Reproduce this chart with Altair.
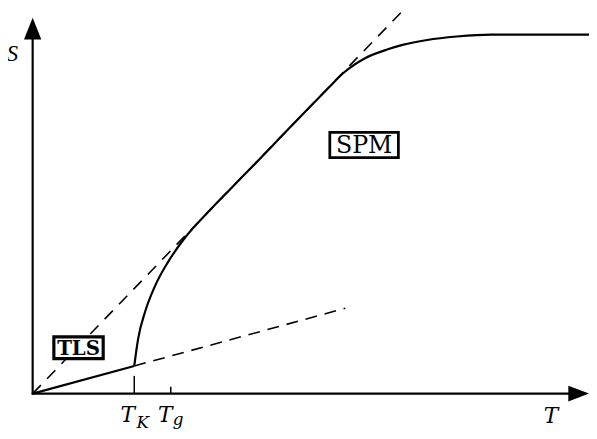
import altair as alt
import pandas as pd

# ---- data (T = temperature, S = entropy, arbitrary units) ----
curve_T = [2.06, 2.10, 2.14, 2.28, 2.48, 2.74, 3.08, 3.50, 4.00, 4.50, 5.00, 5.50,
           6.00, 6.30, 6.74, 7.20, 7.50, 8.00, 8.60, 9.30, 10.00, 10.70, 11.28]
curve_S = [0.56, 0.86, 1.12, 1.66, 2.18, 2.66, 3.15, 3.62, 4.14, 4.65, 5.17, 5.69,
           6.20, 6.50, 6.80, 6.98, 7.07, 7.17, 7.24, 7.28, 7.28, 7.28, 7.28]

T_K, S_K = 2.06, 0.56      # Kauzmann point
T_g = 2.80                  # glass transition tick
tls_solid_T = [0.0, 2.06]
tls_solid_S = [0.0, 0.56]
tls_dash_T = [2.06, 6.34]
tls_dash_S = [0.56, 1.73]
asym_T = [0.0, 7.50]
asym_S = [0.0, 7.76]

T_MAX, S_MAX = 11.28, 7.62  # arrow tips
T_MIN, S_MIN = -0.50, -0.70

box_labels = ["TLS", "SPM"]
box_T = [0.93, 6.72]
box_S = [0.93, 5.04]

xs = alt.Scale(domain=[T_MIN, T_MAX], nice=False, zero=False)
ys = alt.Scale(domain=[S_MIN, 7.76], nice=False, zero=False)
X = lambda f="T": alt.X(f"{f}:Q", scale=xs, axis=None)
Y = lambda f="S": alt.Y(f"{f}:Q", scale=ys, axis=None)

curve_df = pd.DataFrame({"T": curve_T, "S": curve_S})
curve = alt.Chart(curve_df).mark_line(color="black", strokeWidth=2.2, interpolate="monotone").encode(
    x=X(), y=Y(), order=alt.Order("T:Q"))

tls_solid = alt.Chart(pd.DataFrame({"T": tls_solid_T, "S": tls_solid_S})).mark_line(
    color="black", strokeWidth=2.2).encode(x=X(), y=Y())
tls_dash = alt.Chart(pd.DataFrame({"T": tls_dash_T, "S": tls_dash_S})).mark_line(
    color="black", strokeWidth=1.6, strokeDash=[12, 8]).encode(x=X(), y=Y())
asym = alt.Chart(pd.DataFrame({"T": asym_T, "S": asym_S})).mark_line(
    color="black", strokeWidth=1.6, strokeDash=[12, 9]).encode(x=X(), y=Y())

# axes
yaxis = alt.Chart(pd.DataFrame({"T": [0.0], "S": [-0.02], "S2": [S_MAX - 0.2]})).mark_rule(
    color="black", strokeWidth=2.2).encode(x=X(), y=Y(), y2="S2:Q")
xaxis = alt.Chart(pd.DataFrame({"T": [-0.02], "T2": [T_MAX - 0.2], "S": [0.0]})).mark_rule(
    color="black", strokeWidth=2.2).encode(x=X(), x2="T2:Q", y=Y())
yarrow = alt.Chart(pd.DataFrame({"T": [0.0], "S": [S_MAX - 0.22]})).mark_point(
    shape="M0,-1L0.8,1L-0.8,1Z", size=484, filled=True, color="black", opacity=1, strokeWidth=0
).encode(x=X(), y=Y())
xarrow = alt.Chart(pd.DataFrame({"T": [T_MAX - 0.21], "S": [0.0]})).mark_point(
    shape="M1,0L-1,-0.76L-1,0.76Z", size=441, filled=True, color="black", opacity=1, strokeWidth=0
).encode(x=X(), y=Y())

# ticks
tk_tick = alt.Chart(pd.DataFrame({"T": [T_K], "S": [0.0], "S2": [S_K]})).mark_rule(
    color="black", strokeWidth=1.5, strokeDash=[18, 20]).encode(x=X(), y=Y(), y2="S2:Q")
tg_tick = alt.Chart(pd.DataFrame({"T": [T_g], "S": [0.0], "S2": [0.14]})).mark_rule(
    color="black", strokeWidth=1.5).encode(x=X(), y=Y(), y2="S2:Q")

# labels
ital_lib = dict(font="Liberation Serif", fontStyle="italic", color="black")
ital_dv = dict(font="DejaVu Serif", fontStyle="italic", color="black")
s_lab = alt.Chart(pd.DataFrame({"t": ["S"], "T": [-0.41], "S": [6.74]})).mark_text(
    fontSize=23, align="center", baseline="alphabetic", **ital_lib).encode(x=X(), y=Y(), text="t:N")
t_lab = alt.Chart(pd.DataFrame({"t": ["T"], "T": [10.51], "S": [-0.60]})).mark_text(
    fontSize=22, align="center", baseline="alphabetic", **ital_dv).encode(x=X(), y=Y(), text="t:N")
tk_main = alt.Chart(pd.DataFrame({"t": ["T"], "T": [T_K]})).mark_text(
    fontSize=22, align="center", baseline="alphabetic", dx=-6.5, **ital_dv).encode(
    x=X(), y=alt.value(417), text="t:N")
tg_main = alt.Chart(pd.DataFrame({"t": ["T"], "T": [T_g]})).mark_text(
    fontSize=22, align="center", baseline="alphabetic", dx=-5.5, **ital_dv).encode(
    x=X(), y=alt.value(417), text="t:N")
k_sub = alt.Chart(pd.DataFrame({"t": ["K"], "T": [T_K]})).mark_text(
    fontSize=17, align="center", baseline="alphabetic", dx=8.5, **ital_dv).encode(
    x=X(), y=alt.value(423), text="t:N")
g_sub = alt.Chart(pd.DataFrame({"t": ["g"], "T": [T_g]})).mark_text(
    fontSize=17, align="center", baseline="alphabetic", dx=7.5, **ital_dv).encode(
    x=X(), y=alt.value(420), text="t:N")

tls_box = alt.Chart(pd.DataFrame({"T": [box_T[0]], "S": [box_S[0]]})).mark_point(
    shape="M-1,-0.44L1,-0.44L1,0.44L-1,0.44Z", size=2500, filled=True, fill="white",
    stroke="black", strokeWidth=3.2, opacity=1, fillOpacity=1).encode(x=X(), y=Y())
spm_box = alt.Chart(pd.DataFrame({"T": [box_T[1]], "S": [box_S[1]]})).mark_point(
    shape="M-1,-0.367L1,-0.367L1,0.367L-1,0.367Z", size=4830, filled=True, fill="white",
    stroke="black", strokeWidth=2.8, opacity=1, fillOpacity=1).encode(x=X(), y=Y())
tls_text = alt.Chart(pd.DataFrame({"t": [box_labels[0]], "T": [box_T[0]], "S": [box_S[0]]})).mark_text(
    font="DejaVu Serif", fontWeight="bold", fontSize=20, align="center", baseline="middle",
    dy=1, color="black").encode(x=X(), y=Y(), text="t:N")
spm_text = alt.Chart(pd.DataFrame({"t": [box_labels[1]], "T": [box_T[1]], "S": [box_S[1]]})).mark_text(
    font="DejaVu Serif", fontSize=24, align="center", baseline="middle",
    dy=1, color="black").encode(x=X(), y=Y(), text="t:N")

chart = alt.layer(
    asym, tls_dash, tk_tick, tg_tick, yaxis, xaxis, yarrow, xarrow,
    tls_solid, curve, tls_box, spm_box, tls_text, spm_text,
    s_lab, t_lab, tk_main, tg_main, k_sub, g_sub,
).properties(
    width=589, height=423, padding=0, autosize=alt.AutoSizeParams(type="none"),
    background="white",
).configure_view(strokeWidth=0)

chart.save("out.html", embed_options={"renderer": "svg", "actions": False})
